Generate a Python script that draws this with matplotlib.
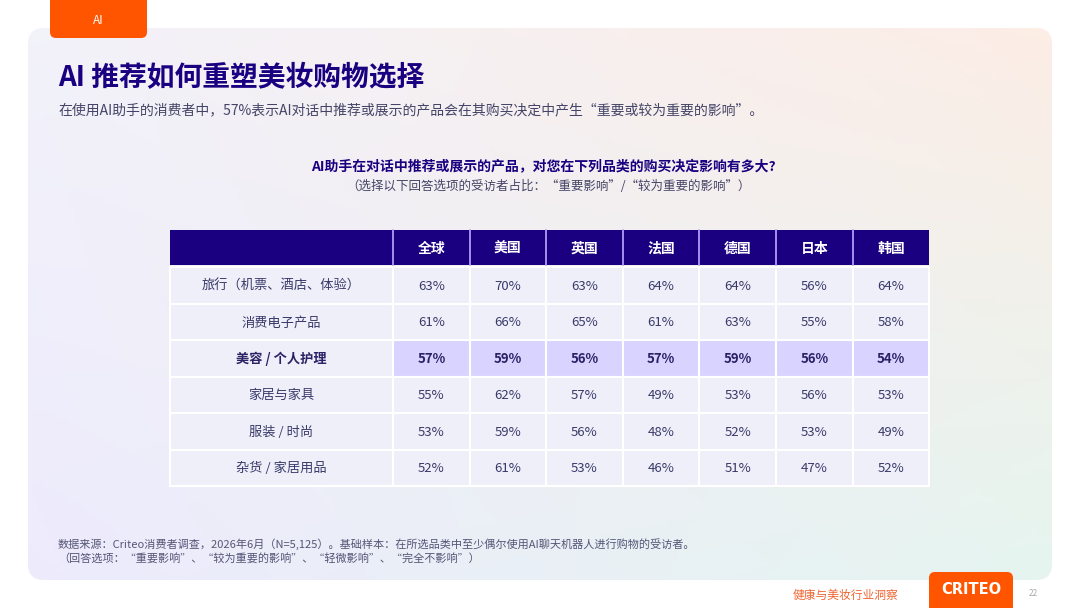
import matplotlib.pyplot as plt
import numpy as np
from matplotlib.patches import FancyBboxPatch, Rectangle

plt.rcParams["font.family"] = ["Noto Sans CJK SC", "DejaVu Sans"]

COUNTRIES = ["全球", "美国", "英国", "法国", "德国", "日本", "韩国"]
CATEGORIES = ["旅行（机票、酒店、体验）", "消费电子产品", "美容 / 个人护理", "家居与家具", "服装 / 时尚", "杂货 / 家居用品"]
VALUES = [
    [63, 70, 63, 64, 64, 56, 64],
    [61, 66, 65, 61, 63, 55, 58],
    [57, 59, 56, 57, 59, 56, 54],
    [55, 62, 57, 49, 53, 56, 53],
    [53, 59, 56, 48, 52, 53, 49],
    [52, 61, 53, 46, 51, 47, 52],
]
HIGHLIGHT = 2

NAVY = "#1a0080"
TEXT = "#3a3a6a"
ORANGE = "#ff5500"

fig = plt.figure(figsize=(10.8, 6.08), dpi=100)
ax = fig.add_axes([0, 0, 1, 1])
ax.set_xlim(0, 1080)
ax.set_ylim(608, 0)
ax.axis("off")

# background panel with soft gradient
xx, yy = np.meshgrid(np.linspace(0, 1, 200), np.linspace(0, 1, 120))
c_lav = np.array([0.95, 0.95, 0.98])
c_peach = np.array([0.99, 0.93, 0.90])
c_green = np.array([0.90, 0.96, 0.94])
c_purple = np.array([0.93, 0.92, 0.99])
img = (c_lav[None, None] * ((1 - xx) * (1 - yy))[..., None]
       + c_peach[None, None] * (xx * (1 - yy))[..., None]
       + c_green[None, None] * (xx * yy)[..., None]
       + c_purple[None, None] * ((1 - xx) * yy)[..., None])
panel = FancyBboxPatch((28, 28), 1024, 552, boxstyle="round,pad=0,rounding_size=16",
                       fc="none", ec="none")
ax.add_patch(panel)
im = ax.imshow(img, extent=(28, 1052, 580, 28), aspect="auto", zorder=0)
im.set_clip_path(panel)

# tab
ax.add_patch(FancyBboxPatch((50, -20), 97, 58, boxstyle="round,pad=0,rounding_size=6",
                            fc=ORANGE, ec="none", zorder=2))
ax.text(98, 21, "AI", color="white", fontsize=8.5, ha="center", va="center", zorder=3)

ax.text(58, 78, "AI 推荐如何重塑美妆购物选择", color=NAVY, fontsize=20, fontweight="bold", va="center")
ax.text(58, 110, "在使用AI助手的消费者中，57%表示AI对话中推荐或展示的产品会在其购买决定中产生“重要或较为重要的影响”。",
        color="#444466", fontsize=10, va="center")
ax.text(543, 166, "AI助手在对话中推荐或展示的产品，对您在下列品类的购买决定影响有多大?",
        color=NAVY, fontsize=10, fontweight="bold", ha="center", va="center")
ax.text(548, 186, "（选择以下回答选项的受访者占比：“重要影响”/“较为重要的影响”）",
        color="#444466", fontsize=9, ha="center", va="center")

# table
x0, first_w, col_w = 170, 223, 76.6
head_top, head_h, row_h = 230, 35, 36.5
ax.add_patch(Rectangle((x0, head_top), first_w + col_w * len(COUNTRIES), head_h,
                       fc=NAVY, ec="none", zorder=2))
for j, name in enumerate(COUNTRIES):
    cx = x0 + first_w + col_w * j
    ax.plot([cx, cx], [head_top, head_top + head_h], color="#b9aaff", lw=1.2, zorder=3)
    ax.text(cx + col_w / 2, head_top + head_h / 2 + 1, name, color="white", fontsize=10,
            fontweight="bold", ha="center", va="center", zorder=4)

for i, (cat, row) in enumerate(zip(CATEGORIES, VALUES)):
    top = head_top + head_h + 2 + row_h * i
    bold = i == HIGHLIGHT
    ax.add_patch(Rectangle((x0, top), first_w, row_h, fc="#eeeff8", ec="white", lw=1.5, zorder=2))
    ax.text(x0 + first_w / 2, top + row_h / 2 + 1, cat, color=TEXT if not bold else "#2a2266",
            fontsize=9.5, fontweight="bold" if bold else "normal", ha="center", va="center", zorder=4)
    for j, v in enumerate(row):
        cx = x0 + first_w + col_w * j
        ax.add_patch(Rectangle((cx, top), col_w, row_h, fc="#d9d3ff" if bold else "#eeeff8",
                               ec="white", lw=1.5, zorder=2))
        ax.text(cx + col_w / 2, top + row_h / 2 + 1, f"{v}%", color=TEXT if not bold else "#2a2266",
                fontsize=9.5, fontweight="bold" if bold else "normal", ha="center", va="center", zorder=4)

ax.text(58, 544, "数据来源：Criteo消费者调查，2026年6月（N=5,125）。基础样本：在所选品类中至少偶尔使用AI聊天机器人进行购物的受访者。",
        color="#555577", fontsize=8, va="center")
ax.text(58, 558, "（回答选项：“重要影响”、“较为重要的影响”、“轻微影响”、“完全不影响”）",
        color="#555577", fontsize=8, va="center")

# footer
ax.text(845, 595, "健康与美妆行业洞察", color="#ee6633", fontsize=8.5, ha="center", va="center")
ax.add_patch(FancyBboxPatch((929, 572), 84, 50, boxstyle="round,pad=0,rounding_size=6",
                            fc=ORANGE, ec="none", zorder=2))
ax.text(971, 590, "CRITEO", color="white", fontsize=10.5, fontweight="bold", ha="center",
        va="center", zorder=3, family="DejaVu Sans")
ax.text(1033, 594, "22", color="#aaaaaa", fontsize=6, ha="center", va="center")

fig.savefig("out.png", dpi=100, facecolor="white")
